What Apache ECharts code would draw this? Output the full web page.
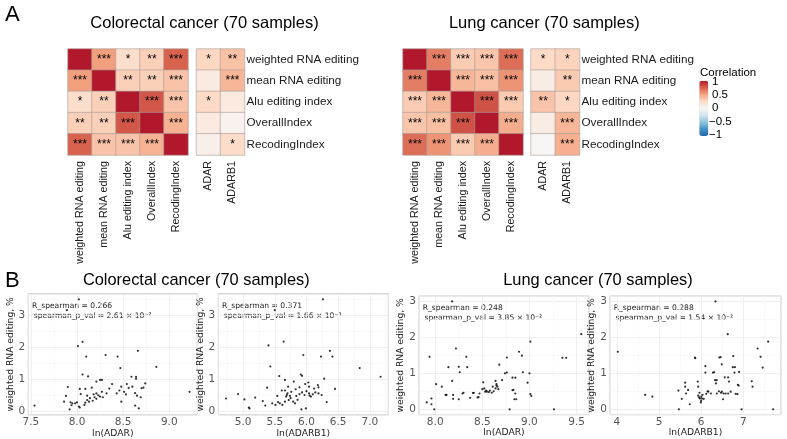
<!DOCTYPE html>
<html><head><meta charset="utf-8">
<script src="https://cdn.jsdelivr.net/npm/echarts@6/dist/echarts.min.js"></script>
<style>html,body{margin:0;padding:0;background:#fff}#c{width:787px;height:439px}</style>
</head><body><div id="c"></div>
<script>
// ---------- data ----------
const rowNames = ['weighted RNA editing','mean RNA editing','Alu editing index','OverallIndex','RecodingIndex'];
const geneNames = ['ADAR','ADARB1'];

const crcCorr = [
  [1.00,0.52,0.22,0.30,0.74],
  [0.52,1.00,0.30,0.30,0.36],
  [0.22,0.30,1.00,0.78,0.36],
  [0.30,0.30,0.78,1.00,0.44],
  [0.74,0.36,0.36,0.44,1.00]];
const crcStars = [
  ['','***','*','**','***'],
  ['***','','**','**','***'],
  ['*','**','','***','***'],
  ['**','**','***','','***'],
  ['***','***','***','***','']];
const crcGeneCorr = [[0.266,0.371],[0.12,0.42],[0.25,0.12],[0.12,0.05],[0.07,0.24]];
const crcGeneStars = [['*','**'],['','***'],['*',''],['',''],['','*']];

const lungCorr = [
  [1.00,0.64,0.32,0.35,0.70],
  [0.64,1.00,0.42,0.38,0.56],
  [0.32,0.42,1.00,0.80,0.33],
  [0.35,0.38,0.80,1.00,0.46],
  [0.70,0.56,0.33,0.46,1.00]];
const lungStars = [
  ['','***','***','***','***'],
  ['***','','***','***','***'],
  ['***','***','','***','***'],
  ['***','***','***','','***'],
  ['***','***','***','***','']];
const lungGeneCorr = [[0.248,0.288],[0.10,0.33],[0.36,0.27],[0.10,0.42],[0.02,0.45]];
const lungGeneStars = [['*','*'],['','**'],['**','*'],['','***'],['','***']];

const legendTicks = ['1','0.5','0','\u22120.5','\u22121'];

const crcAdar = [[8.02,3.49],[7.89,3.15],[8.06,2.16],[8.01,2.03],[8.10,1.70],[8.31,1.75],[8.44,1.70],[8.66,1.88],[8.86,1.38],[8.47,1.34],[8.06,1.14],[8.12,1.08],[8.25,0.97],[8.27,0.97],[8.21,0.92],[8.59,1.07],[8.64,1.07],[8.64,1.01],[8.74,0.86],[8.38,0.84],[7.90,0.75],[8.03,0.69],[8.09,0.69],[8.16,0.73],[8.48,0.76],[8.54,0.84],[8.60,0.76],[8.70,0.71],[8.72,0.73],[8.46,0.64],[8.43,0.55],[8.51,0.60],[8.27,0.60],[8.21,0.55],[8.04,0.53],[8.11,0.48],[8.18,0.52],[8.23,0.49],[8.25,0.45],[7.88,0.47],[8.21,0.38],[8.17,0.32],[8.11,0.34],[8.14,0.40],[7.93,0.27],[7.86,0.29],[7.95,0.24],[7.98,0.24],[8.00,0.27],[7.94,0.18],[8.08,0.19],[8.65,0.48],[8.53,0.52],[8.48,0.29],[8.63,0.17],[8.67,0.08],[8.69,0.43],[8.02,0.14],[8.03,0.11],[7.92,0.05],[7.54,0.17],[9.22,0.60],[8.19,0.43],[8.28,0.43],[8.09,0.26],[8.13,0.29],[8.32,0.55],[8.56,0.72],[8.63,0.56],[8.35,0.70]];
const crcAdarb1 = [[6.26,3.49],[5.50,3.15],[5.64,2.17],[5.40,2.05],[5.43,1.39],[5.95,1.75],[6.23,1.70],[6.37,1.88],[6.41,1.70],[6.84,1.34],[7.17,1.07],[5.57,1.09],[5.66,0.97],[5.80,0.92],[5.91,1.14],[5.93,1.10],[5.38,0.73],[5.61,0.64],[5.71,0.76],[5.83,0.68],[5.89,0.74],[5.98,0.84],[6.03,0.89],[6.04,0.76],[6.12,0.70],[6.18,0.81],[6.19,0.74],[6.28,1.01],[6.45,0.69],[4.92,0.53],[4.73,0.39],[5.02,0.36],[5.19,0.42],[5.09,0.11],[5.10,0.08],[5.31,0.31],[5.35,0.17],[5.46,0.24],[5.51,0.19],[5.54,0.47],[5.58,0.24],[5.62,0.19],[5.66,0.29],[5.68,0.45],[5.70,0.55],[5.74,0.47],[5.76,0.60],[5.75,0.40],[5.79,0.29],[5.82,0.24],[5.89,0.53],[5.93,0.58],[5.97,0.50],[5.99,0.08],[5.92,0.05],[6.04,0.55],[6.05,0.48],[6.07,0.45],[6.10,0.52],[6.19,0.55],[6.24,0.50],[6.32,0.28],[5.69,0.50],[5.66,0.64],[5.86,0.35],[6.00,0.62],[5.72,0.34],[5.84,0.47],[6.14,0.58],[5.55,0.28]];
const lungAdar = [[8.18,3.00],[8.22,1.69],[7.94,1.46],[8.33,1.46],[8.14,1.17],[8.25,1.18],[8.34,1.17],[8.26,1.03],[8.18,0.79],[8.01,0.70],[8.07,0.63],[8.11,0.40],[8.19,0.40],[8.19,0.29],[8.25,0.28],[8.29,0.44],[8.30,0.46],[8.37,0.32],[8.41,0.46],[8.45,0.33],[8.47,0.44],[8.52,0.58],[8.51,0.75],[8.53,0.49],[8.55,0.49],[8.60,0.46],[8.61,0.63],[8.64,0.79],[8.65,0.66],[8.66,0.63],[8.65,0.70],[8.67,0.56],[8.68,1.24],[8.71,0.81],[8.74,1.00],[8.76,1.02],[8.76,1.44],[8.82,0.88],[8.85,0.88],[8.83,0.54],[8.85,0.44],[8.84,0.28],[8.86,0.28],[8.79,0.00],[8.89,1.60],[8.92,1.49],[8.93,1.03],[8.98,0.74],[9.00,1.00],[9.01,1.88],[9.01,0.42],[9.02,0.37],[9.26,0.00],[9.35,1.43],[9.39,1.43],[9.55,2.09],[7.91,0.19],[7.96,0.30],[7.96,0.14],[7.99,0.00],[8.54,0.52],[8.57,0.48],[8.62,0.50],[8.50,0.56],[8.46,0.34],[8.40,0.45],[8.64,0.58],[8.82,0.53],[8.12,0.40],[8.58,0.52]];
const lungAdarb1 = [[6.34,3.00],[6.63,2.09],[7.59,1.88],[7.34,1.69],[7.41,1.46],[7.46,1.16],[7.20,0.78],[7.22,0.63],[7.71,0.00],[6.96,0.00],[4.02,1.60],[4.67,0.40],[4.84,0.35],[5.47,0.00],[5.46,0.52],[5.54,0.29],[5.62,0.74],[5.62,0.63],[5.64,0.44],[5.69,0.54],[5.73,0.14],[5.85,1.44],[5.86,1.42],[5.92,0.77],[5.93,0.63],[5.93,0.38],[5.95,0.33],[5.97,0.30],[5.99,0.19],[6.00,0.24],[6.03,0.40],[6.06,0.29],[6.10,1.20],[6.10,1.02],[6.12,0.43],[6.17,0.49],[6.23,0.44],[6.28,1.02],[6.31,1.03],[6.33,0.81],[6.37,0.81],[6.35,0.72],[6.37,0.44],[6.43,1.44],[6.46,1.45],[6.49,1.25],[6.49,0.49],[6.47,0.46],[6.53,0.44],[6.58,0.44],[6.52,0.28],[6.56,0.89],[6.64,0.89],[6.64,0.44],[6.66,0.77],[6.70,0.49],[6.75,1.17],[6.80,1.17],[6.79,1.02],[6.76,1.48],[6.82,0.43],[6.86,0.42],[6.87,0.68],[6.90,1.04],[6.89,0.66],[6.00,0.35],[5.96,0.46],[6.02,0.30],[6.15,0.50],[6.42,0.50]];

const scatterStats = [
  ['R_spearman = 0.266','spearman_p_val = 2.61 \u00d7 10\u207b\u00b2'],
  ['R_spearman = 0.371','spearman_p_val = 1.66 \u00d7 10\u207b\u00b3'],
  ['R_spearman = 0.248','spearman_p_val = 3.85 \u00d7 10\u207b\u00b2'],
  ['R_spearman = 0.288','spearman_p_val = 1.54 \u00d7 10\u207b\u00b2']];

// ---------- layout ----------
const SANS = 'Liberation Sans, Arial, Helvetica, sans-serif';
const DJV = 'DejaVu Sans, sans-serif';
const RdBu = ['#2166AC','#4393C3','#92C5DE','#D1E5F0','#F7F7F7','#FDDBC7','#F4A582','#D6604D','#B2182B'];

const heatGrids = [
  {left:68, top:49, width:120, height:106},
  {left:196.5, top:49, width:48, height:106},
  {left:403, top:49, width:120, height:106},
  {left:531, top:49, width:48.5, height:106}];
const scGrids = [
  {left:28.3, top:293.8, width:169, height:121.1, x:[7.472,9.304], y:[-0.122,3.662], xs:4, ys:4, xd:1, xn:'ln(ADAR)'},
  {left:218.3, top:293.8, width:170, height:121.1, x:[4.608,7.292], y:[-0.122,3.662], xs:5, ys:4, xd:1, xn:'ln(ADARB1)'},
  {left:419, top:296, width:170, height:118.7, x:[7.828,9.632], y:[-0.15,3.15], xs:4, ys:3, xd:1, xn:'ln(ADAR)'},
  {left:610, top:296, width:171, height:118.7, x:[3.835,7.895], y:[-0.15,3.15], xs:4, ys:3, xd:0, xn:'ln(ADARB1)'}];
const scData = [crcAdar, crcAdarb1, lungAdar, lungAdarb1];

function heatData(corr, stars){
  const out=[];
  corr.forEach((row,i)=>row.forEach((v,j)=>out.push([j,i,v,stars[i][j]])));
  return out;
}

const grid=[], xAxis=[], yAxis=[], series=[];
heatGrids.forEach((g,k)=>{
  grid.push({left:g.left, top:g.top, width:g.width, height:g.height, outerBoundsMode:'none', containLabel:false});
  const small = (k%2===1);
  xAxis.push({type:'category', gridIndex:k, data: small?geneNames:rowNames, position:'bottom',
    axisLine:{show:false}, axisTick:{show:false}, splitLine:{show:false},
    axisLabel:{rotate:90, interval:0, margin:6, fontSize:10.7, color:'#1a1a1a', fontFamily:SANS}});
  yAxis.push({type:'category', gridIndex:k, data: rowNames, inverse:true, position:'right',
    axisLine:{show:false}, axisTick:{show:false}, splitLine:{show:false},
    axisLabel:{show:small, interval:0, margin:2, fontSize:11.7, color:'#1a1a1a', fontFamily:SANS}});
});
const heatSets = [[crcCorr,crcStars],[crcGeneCorr,crcGeneStars],[lungCorr,lungStars],[lungGeneCorr,lungGeneStars]];
heatSets.forEach((s,k)=>{
  series.push({type:'heatmap', xAxisIndex:k, yAxisIndex:k, data:heatData(s[0],s[1]),
    itemStyle:{borderColor:'#a89c98', borderWidth:0.6},
    label:{show:true, formatter:p=>p.data[3], fontSize:12, color:'#000', fontFamily:SANS},
    emphasis:{disabled:true}, silent:true});
});

scGrids.forEach((g,k)=>{
  const gi = 4+k;
  grid.push({left:g.left, top:g.top, width:g.width, height:g.height, show:true, borderColor:'#b8b8b8', borderWidth:0.8,
    backgroundColor:'#fff', outerBoundsMode:'none', containLabel:false});
  xAxis.push({type:'value', gridIndex:gi, min:g.x[0], max:g.x[1], splitNumber:g.xs,
    axisLine:{show:false}, axisTick:{show:false},
    splitLine:{show:true, lineStyle:{color:'#ebebeb', width:0.8}},
    minorTick:{show:false, splitNumber:2}, minorSplitLine:{show:true, lineStyle:{color:'#f5f5f5', width:0.6}},
    axisLabel:{showMinLabel:false, showMaxLabel:false, margin:2, fontSize:10.5, color:'#555', fontFamily:DJV,
      formatter:(v)=>Number(v).toFixed(g.xd)},
    name:g.xn, nameLocation:'middle', nameGap:11, nameTextStyle:{fontSize:9.2, color:'#222', fontFamily:DJV}});
  yAxis.push({type:'value', gridIndex:gi, min:g.y[0], max:g.y[1], splitNumber:g.ys,
    axisLine:{show:false}, axisTick:{show:false},
    splitLine:{show:true, lineStyle:{color:'#ebebeb', width:0.8}},
    minorTick:{show:false, splitNumber:2}, minorSplitLine:{show:true, lineStyle:{color:'#f5f5f5', width:0.6}},
    axisLabel:{showMinLabel:false, showMaxLabel:false, margin:3, fontSize:10.5, color:'#555', fontFamily:DJV,
      formatter:(v)=>Number(v).toFixed(0)},
    name:'weighted RNA editing, %', nameLocation:'middle', nameGap:8.5, nameTextStyle:{fontSize:9.2, color:'#222', fontFamily:DJV}});
  series.push({type:'scatter', xAxisIndex:gi, yAxisIndex:gi, data:scData[k], symbolSize:2.2,
    itemStyle:{color:'#000'}, silent:true});
});

// ---------- texts ----------
const graphic = [];
function txt(x,y,t,size,opts){
  const el = {type:'text', x:x, y:y, silent:true,
    style:{text:t, fontSize:size, fontFamily:SANS, fill:'#000', textAlign:'left', textVerticalAlign:'middle'}};
  if(opts) Object.assign(el.style, opts);
  graphic.push(el);
}
txt(5,15,'A',22);
txt(5,281,'B',22);
txt(204.5,23.5,'Colorectal cancer (70 samples)',16.5,{textAlign:'center'});
txt(544.3,23.5,'Lung cancer (70 samples)',16.5,{textAlign:'center'});
txt(196.3,280,'Colorectal cancer (70 samples)',16.4,{textAlign:'center'});
txt(598,280,'Lung cancer (70 samples)',16.4,{textAlign:'center'});
scGrids.forEach((g,k)=>{
  txt(g.left+3.8, g.top+12, scatterStats[k][0], 7.6, {fontFamily:DJV, fill:'#222'});
  txt(g.left+5.5, g.top+22.5, scatterStats[k][1], 7.6, {fontFamily:DJV, fill:'#222'});
});
txt(700,73,'Correlation',11.5);
const legY=[81.5,94.5,108,121.5,134.5], legX=[712,712,712,709,709];
legendTicks.forEach((t,i)=>txt(legX[i],legY[i],t,11.5));

const chart = echarts.init(document.getElementById('c'), null, {renderer:'canvas'});
chart.setOption({
  animation:false,
  backgroundColor:'#fff',
  grid, xAxis, yAxis, series, graphic,
  visualMap:{type:'continuous', min:-1, max:1, seriesIndex:[0,1,2,3], dimension:2,
    inRange:{color:RdBu}, show:true, orient:'vertical', left:699.3, top:80.7, itemWidth:9, itemHeight:55.3,
    padding:0, text:null, calculable:false, showLabel:false, hoverLink:false}
});
</script></body></html>
